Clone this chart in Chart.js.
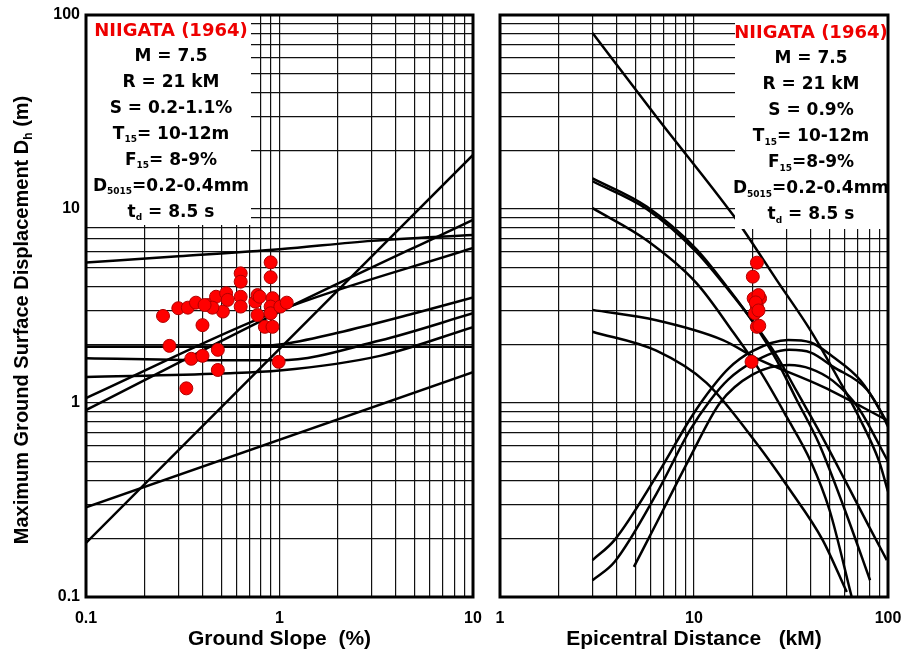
<!DOCTYPE html>
<html>
<head>
<meta charset="utf-8">
<script src="https://cdn.jsdelivr.net/npm/chart.js@4.4.0/dist/chart.umd.min.js"></script>
<style>
  html, body { margin: 0; padding: 0; background: #fff; }
  #wrap { position: relative; width: 904px; height: 654px; }
  canvas { position: absolute; top: 0; }
  #slopeChart { left: 0; }
  #distChart { left: 490px; }
</style>
</head>
<body>
<div id="wrap">
  <canvas id="slopeChart" width="490" height="654"></canvas>
  <canvas id="distChart" width="414" height="654"></canvas>
</div>
<script>
// --- Tick labels ---
const dispTicks = [0.1, 1, 10, 100];
const slopeTicks = [0.1, 1, 10];
const distTicks = [1, 10, 100];

// --- Left panel: Dh (m) vs ground slope (%), pairs [slope, Dh] ---
const slopeLineA = [[0.1, 5.3], [0.3, 5.7], [1, 6.2], [3, 6.85], [10, 7.35]];
const slopeLineB = [[0.1, 0.19], [1, 1.9], [10, 19]];
const slopeLineC = [[0.1, 1.95], [10, 1.95]];
const slopeLineD = [[0.1, 1.95], [0.6, 1.95], [1, 2.0], [2, 2.3], [5, 2.9], [10, 3.5]];
const slopeLineE = [[0.1, 0.92], [1, 2.95], [10, 8.8]];
const slopeLineF = [[0.1, 1.06], [1, 3.0], [10, 6.3]];
const slopeLineG = [[0.1, 1.7], [0.5, 1.66], [1, 1.66], [3.3, 2.1], [10, 2.9]];
const slopeLineH = [[0.1, 1.36], [0.5, 1.42], [1, 1.47], [3.3, 1.75], [10, 2.46]];
const slopeLineI = [[0.1, 0.29], [10, 1.44]];

const slopeObs   = [0.25, 0.27, 0.30, 0.33, 0.336, 0.35, 0.37, 0.40, 0.40, 0.43, 0.47, 0.48, 0.48, 0.51, 0.53, 0.54,
                    0.63, 0.63, 0.63, 0.63, 0.75, 0.77, 0.79, 0.77, 0.84, 0.90, 0.90, 0.92, 0.90, 0.90, 0.92, 0.99,
                    1.01, 1.09, 0.45, 0.41];
const slopeObsDh = [2.81, 1.97, 3.08, 1.19, 3.10, 1.69, 3.29, 2.52, 1.75, 3.20, 3.53, 1.88, 1.48, 2.96, 3.68, 3.40,
                    4.66, 4.22, 3.53, 3.14, 3.33, 3.60, 3.53, 2.84, 2.47, 5.31, 4.45, 3.47, 3.14, 2.90, 2.47, 1.63,
                    3.14, 3.29, 3.10, 3.20];

// --- Right panel: Dh (m) vs epicentral distance (kM), pairs [R, Dh] ---
const distLineA = [[3, 80.8], [6.4, 29.9], [15.9, 9.3], [18, 7.8], [26.7, 4.3], [39.7, 2.38], [56, 1.31], [72, 0.82], [90, 0.5], [100, 0.35]];
const distLineB = [[3, 14.4], [5.7, 10.3], [10.3, 6.2], [15.3, 3.8], [20.2, 2.6], [26.7, 1.66], [33.8, 1.04], [44, 0.62], [60, 0.28], [80.8, 0.122]];
const distLineC = [[3, 13.9], [5.7, 10.0], [10.3, 6.0], [15.3, 3.75], [20.2, 2.62], [26.7, 1.75], [33.8, 1.15], [44, 0.72], [60, 0.4], [80, 0.23], [98.6, 0.155]];
const distLineD = [[3, 10.1], [5.7, 6.9], [10.3, 4.15], [16, 2.3], [22, 1.45], [30, 0.85], [40, 0.5], [50, 0.28], [65, 0.1]];
const distLineE = [[3, 3.02], [6.4, 2.67], [14.1, 2.11], [21, 1.7], [46.3, 1.21], [100, 0.81]];
const distLineF = [[3, 2.33], [6.4, 1.86], [11.6, 1.27], [21, 0.62], [31, 0.36], [46, 0.197], [61.3, 0.106]];
const distLineG = [[3, 0.155], [3.9, 0.197], [6.4, 0.42], [9.5, 0.82], [11.2, 1.05], [15, 1.5], [20, 1.85], [30.6, 2.11], [40, 2.05], [52, 1.73], [72, 1.31], [90.8, 0.92], [100, 0.755]];
const distLineH = [[3, 0.122], [3.9, 0.152], [6.4, 0.34], [9.5, 0.72], [12.1, 1.03], [15, 1.32], [20, 1.62], [31, 1.88], [40, 1.82], [52, 1.54], [78, 1.17], [100, 0.78]];
const distLineI = [[4.9, 0.143], [6.4, 0.24], [9.5, 0.52], [13.6, 1.0], [20, 1.4], [31, 1.57], [40, 1.5], [52, 1.3], [70, 0.95], [100, 0.5]];

const distObs   = [21.1, 20.1, 21.1, 20.3, 21.9, 21.1, 20.6, 21.1, 21.7, 19.8, 21.5, 20.8, 21.5];
const distObsDh = [5.29, 4.48, 3.53, 3.46, 3.46, 3.14, 2.90, 2.47, 2.50, 1.63, 3.60, 3.30, 3.00];

// --- Texts ---
const noteTitle = 'NIIGATA (1964)';
const slopeNotes = ['M = 7.5', 'R = 21 kM', 'S = 0.2-1.1%', 'T_{15}= 10-12m', 'F_{15}= 8-9%', 'D_{5015}=0.2-0.4mm', 't_{d} = 8.5 s'];
const distNotes  = ['M = 7.5', 'R = 21 kM', 'S = 0.9%', 'T_{15}= 10-12m', 'F_{15}=8-9%', 'D_{5015}=0.2-0.4mm', 't_{d} = 8.5 s'];
const yTitleText = 'Maximum Ground Surface Displacement D_{h} (m)';

const axisFont = '"Liberation Sans", Arial, sans-serif';
const noteFont = '"DejaVu Sans", sans-serif';

// split "T_{15}= x" into normal / subscript parts
function parseRich(str) {
    const parts = [];
    str.split(/(_\{[^}]*\})/).forEach(s => {
        if (!s) return;
        if (s.startsWith('_{')) parts.push({ t: s.slice(2, -1), sub: true });
        else parts.push({ t: s, sub: false });
    });
    return parts;
}

function drawRich(ctx, str, cx, y, size, family, subRatio) {
    const parts = parseRich(str);
    const big = `bold ${size}px ${family}`;
    const small = `bold ${Math.round(size * (subRatio || 0.6))}px ${family}`;
    let w = 0;
    parts.forEach(p => { ctx.font = p.sub ? small : big; w += ctx.measureText(p.t).width; });
    let x = cx - w / 2;
    ctx.textAlign = 'left';
    ctx.textBaseline = 'middle';
    parts.forEach(p => {
        ctx.font = p.sub ? small : big;
        ctx.fillText(p.t, x, p.sub ? y + size * 0.32 : y);
        x += ctx.measureText(p.t).width;
    });
}

// all 1..9 x 10^n grid values between min and max
function logGrid(min, max) {
    const vals = [];
    for (let d = min; d < max * 0.999; d *= 10) {
        for (let k = 1; k <= 9; k++) vals.push(+(d * k).toPrecision(6));
    }
    vals.push(max);
    return vals;
}

function logAxis(min, max, labels, size, showLabels, title) {
    return {
        type: 'logarithmic',
        min: min,
        max: max,
        afterBuildTicks: s => { s.ticks = logGrid(min, max).map(v => ({ value: v })); },
        afterFit: s => {
            if (size.width != null) s.width = size.width;
            if (size.height != null) s.height = size.height;
            // labels may hang over the plot edges, keep the plot box fixed
            s.paddingLeft = s.paddingRight = s.paddingTop = s.paddingBottom = 0;
        },
        grid: { color: '#111', lineWidth: 1.2, drawTicks: false },
        border: { display: false },
        ticks: {
            display: showLabels,
            autoSkip: false,
            maxRotation: 0,
            padding: size.height != null ? 12 : 6,
            color: '#000',
            font: { family: axisFont, size: 16, weight: 'bold' },
            callback: v => labels.includes(v) ? String(v) : ''
        },
        title: title ? {
            display: true,
            text: title,
            color: '#000',
            font: { family: axisFont, size: 21, weight: 'bold' },
            padding: { top: 0, bottom: 2 }
        } : { display: false }
    };
}

function lineSet(pairs) {
    return {
        data: pairs.map(p => ({ x: p[0], y: p[1] })),
        showLine: true,
        borderColor: '#000',
        borderWidth: 2.5,
        pointRadius: 0,
        cubicInterpolationMode: 'monotone',
        order: 1
    };
}

function obsSet(xs, ys) {
    return {
        data: xs.map((x, i) => ({ x: x, y: ys[i] })),
        pointRadius: 6.5,
        backgroundColor: '#ff0000',
        borderColor: '#b00000',
        borderWidth: 1,
        order: 0
    };
}

// white annotation box with the site data, then the plot frame
function notePlugin(box) {
    return {
        id: 'noteBox',
        afterDatasetsDraw(chart) {
            const ctx = chart.ctx;
            const [x1, y1, x2, y2] = box.rect;
            ctx.save();
            ctx.fillStyle = '#fff';
            ctx.fillRect(x1, y1, x2 - x1, y2 - y1);
            ctx.fillStyle = '#ee0000';
            drawRich(ctx, noteTitle, box.cx, box.y0, 18, noteFont);
            ctx.fillStyle = '#000';
            box.lines.forEach((line, i) => {
                drawRich(ctx, line, box.cx, box.y0 + (i + 1) * box.step, 17, noteFont, 0.55);
            });
            ctx.restore();
        },
        afterDraw(chart) {
            const { ctx, chartArea: a } = chart;
            ctx.save();
            ctx.strokeStyle = '#000';
            ctx.lineWidth = 3;
            ctx.strokeRect(a.left, a.top, a.right - a.left, a.bottom - a.top);
            ctx.restore();
        }
    };
}

const yTitlePlugin = {
    id: 'yTitle',
    afterDraw(chart) {
        const ctx = chart.ctx;
        ctx.save();
        ctx.translate(22, 320);
        ctx.rotate(-Math.PI / 2);
        ctx.fillStyle = '#000';
        drawRich(ctx, yTitleText, 0, 0, 20, axisFont, 0.6);
        ctx.restore();
    }
};

const common = {
    responsive: false,
    animation: false,
    devicePixelRatio: 1,
    plugins: { legend: { display: false }, tooltip: { enabled: false } }
};

new Chart(document.getElementById('slopeChart'), {
    type: 'scatter',
    data: {
        datasets: [
            obsSet(slopeObs, slopeObsDh),
            lineSet(slopeLineA), lineSet(slopeLineB), lineSet(slopeLineC),
            lineSet(slopeLineD), lineSet(slopeLineE), lineSet(slopeLineF),
            lineSet(slopeLineG), lineSet(slopeLineH), lineSet(slopeLineI)
        ]
    },
    options: Object.assign({}, common, {
        layout: { padding: { top: 15, right: 17, bottom: 0, left: 0 } },
        scales: {
            x: logAxis(0.1, 10, slopeTicks, { height: 57 }, true, 'Ground Slope  (%)'),
            y: logAxis(0.1, 100, dispTicks, { width: 86 }, true, null)
        }
    }),
    plugins: [notePlugin({ rect: [86, 15, 251, 225], cx: 171, y0: 31, step: 25.9, lines: slopeNotes }), yTitlePlugin]
});

new Chart(document.getElementById('distChart'), {
    type: 'scatter',
    data: {
        datasets: [
            obsSet(distObs, distObsDh),
            lineSet(distLineA), lineSet(distLineB), lineSet(distLineC),
            lineSet(distLineD), lineSet(distLineE), lineSet(distLineF),
            lineSet(distLineG), lineSet(distLineH), lineSet(distLineI)
        ]
    },
    options: Object.assign({}, common, {
        layout: { padding: { top: 15, right: 16, bottom: 0, left: 0 } },
        scales: {
            x: logAxis(1, 100, distTicks, { height: 57 }, true, 'Epicentral Distance   (kM)'),
            y: logAxis(0.1, 100, dispTicks, { width: 10 }, false, null)
        }
    }),
    plugins: [notePlugin({ rect: [245, 15, 398, 229], cx: 321, y0: 33, step: 26, lines: distNotes })]
});
</script>
</body>
</html>
